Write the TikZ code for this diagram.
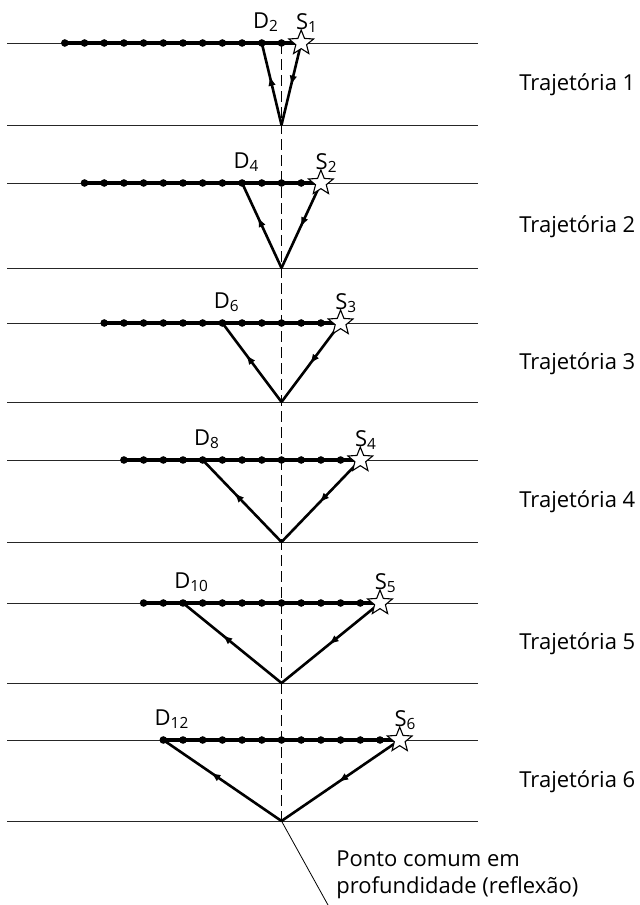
\documentclass[tikz,border=0pt]{standalone}
\usepackage{fontspec}
\setmainfont{Open Sans}
\usepackage{tikz}
\usetikzlibrary{arrows.meta, positioning, shapes.geometric, decorations.markings}

\begin{document}
\begin{tikzpicture}[
          x=0.5pt, y=-0.5pt,
          layer/.style={line width=0.5pt, black!85},
          spread/.style={line width=1.7pt},
          ray/.style={line width=1.3pt},
          geophone/.style={circle, fill, inner sep=0pt, minimum size=3.8pt},
          shot/.style={star, star points=5, star point ratio=2.3, draw, fill=white, line width=0.55pt, inner sep=0pt, minimum size=13pt},
          tag/.style={inner sep=0pt, anchor=base west, font=\fontsize{11}{13.5}\selectfont},
          midarrow/.style={postaction={decorate}, decoration={markings, mark=at position #1 with {\arrow{Latex[length=5pt,width=3.8pt]}}}}
        ]
          \useasboundingbox (0,0) rectangle (640,905);
          \def\cmp{281.5}
          \def\dx{19.7}
          % panels: index / top line / bottom line / receiver dot / receiver number
          \foreach \k/\yt/\yb/\j/\d in {1/43/125/11/2, 2/183/268/9/4, 3/323/402/7/6, 4/460/542/5/8, 5/603/683/3/10, 6/740/821/1/12} {
            \draw[layer] (7,\yt) -- (478,\yt);
            \draw[layer] (7,\yb) -- (478,\yb);
            \coordinate (r\k) at (\cmp,\yb);
            \coordinate (sp\k) at ({\cmp+\k*\dx},\yt);
            \foreach \i in {1,...,12}
              \node[geophone] (g\k-\i) at ({\cmp+(\i+\k-13)*\dx},\yt) {};
            \draw[spread] (g\k-1.center) -- (sp\k);
            \draw[ray, midarrow=0.52] (sp\k) -- (r\k);
            \draw[ray, midarrow=0.6] (r\k) -- (g\k-\j.center);
            \node[shot] (s\k) at (sp\k) {};
            \node[tag, xshift=-4.5pt, yshift=7.5pt] (dl\k) at (g\k-\j.center) {D\textsubscript{\d}};
            \node[tag, xshift=-2.8pt, yshift=7pt] (sl\k) at (s\k.center) {S\textsubscript{\k}};
            \node[tag] (tr\k) at (519,{(\yt+\yb)/2+6.5}) {Trajetória \k};
          }
          \draw[line width=0.5pt, dash pattern=on 5.5pt off 2.5pt] (g1-12.center) -- (r6);
          \coordinate (leader) at (328,905);
          \draw[line width=0.4pt] (r6) -- (leader);
          \node[tag, anchor=west, align=left] (cmp) at (336,874.5) {Ponto comum em\\profundidade (reflexão)};
        \end{tikzpicture}
\end{document}
